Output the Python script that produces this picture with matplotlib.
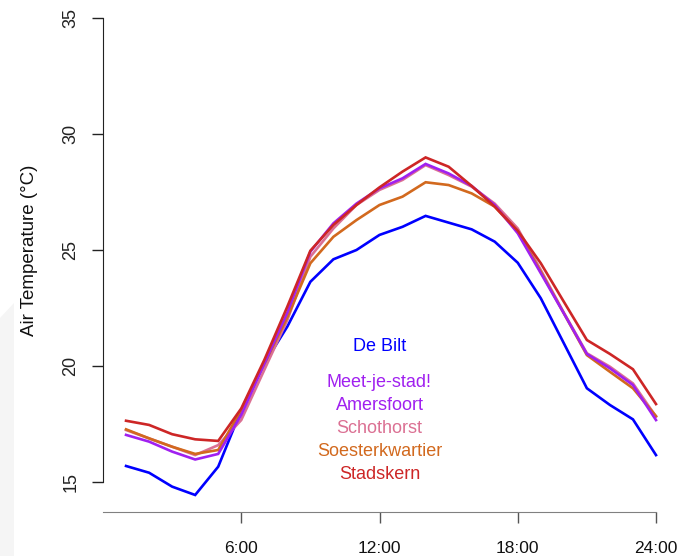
import matplotlib
matplotlib.use("Agg")
import matplotlib.pyplot as plt
from matplotlib.patches import Polygon

plt.rcParams['font.family'] = ['Liberation Sans', 'DejaVu Sans']

hours = list(range(1, 25))
de_bilt = [15.69, 15.40, 14.80, 14.44, 15.66, 18.1, 20.1, 21.7, 23.63, 24.6, 25.0, 25.65,
           26.0, 26.47, 26.18, 25.89, 25.36, 24.45, 22.92, 20.98, 19.04, 18.32, 17.70, 16.16]
amersfoort = [17.03, 16.74, 16.31, 15.97, 16.21, 17.89, 20.1, 22.3, 24.93, 26.15, 27.0, 27.66,
              28.09, 28.71, 28.3, 27.76, 26.94, 25.72, 24.0, 22.27, 20.52, 19.9, 19.18, 17.67]
schothorst = [17.24, 16.88, 16.52, 16.16, 16.59, 17.67, 19.83, 21.98, 24.71, 25.93, 26.94, 27.59,
              28.02, 28.66, 28.23, 27.73, 27.0, 25.93, 24.14, 22.3, 20.55, 19.97, 19.25, 17.82]
soesterkwartier = [17.27, 16.88, 16.52, 16.21, 16.38, 18.1, 20.1, 22.1, 24.43, 25.57, 26.29, 26.94,
                   27.30, 27.92, 27.80, 27.44, 26.87, 25.79, 24.06, 22.27, 20.47, 19.75, 19.04, 17.84]
stadskern = [17.64, 17.46, 17.06, 16.84, 16.77, 18.17, 20.26, 22.56, 24.97, 26.08, 26.94, 27.70,
             28.38, 28.99, 28.59, 27.76, 26.87, 25.83, 24.43, 22.77, 21.12, 20.52, 19.86, 18.36]

series = [
    ("De Bilt", de_bilt, "#0000FF"),
    ("Amersfoort", amersfoort, "#A020F0"),
    ("Schothorst", schothorst, "#DB7093"),
    ("Soesterkwartier", soesterkwartier, "#D2691E"),
    ("Stadskern", stadskern, "#CD2626"),
]
labels = ["Meet-je-stad!", "Amersfoort", "Schothorst", "Soesterkwartier", "Stadskern"]
label_colors = ["#A020F0", "#A020F0", "#DB7093", "#D2691E", "#CD2626"]

x_ticks = [6, 12, 18, 24]
x_ticklabels = ["6:00", "12:00", "18:00", "24:00"]
y_ticks = [15, 20, 25, 30, 35]

W, H = 692, 556
fig = plt.figure(figsize=(W / 100, H / 100), dpi=100)

# faint grey artifact on the left
fig.patches.append(Polygon([(0, 1 - 318 / H), (14 / W, 1 - 303 / H), (14 / W, 0), (0, 0)],
                           closed=True, transform=fig.transFigure, facecolor="#f5f5f5",
                           edgecolor="none", zorder=-10))

x0, x1 = 103, 656
ytop, ybot = 18, 512
ax = fig.add_axes([x0 / W, 1 - ybot / H, (x1 - x0) / W, (ybot - ytop) / H])
ppd = (482 - 18) / 20.0
ax.set_xlim(0, 24)
ax.set_ylim(15 - (ybot - 482) / ppd, 35)
ax.patch.set_alpha(0)

order = [0, 2, 3, 1, 4]
for i in order:
    name, vals, col = series[i]
    ax.plot(hours, vals, color=col, lw=1.9, clip_on=False, solid_joinstyle='miter')

ax.text(12, 20.83, "De Bilt", color="#0000FF", ha="center", va="center", fontsize=13)
for k, (lab, col) in enumerate(zip(labels, label_colors)):
    ax.text(12, 19.3 - k * 0.99, lab, color=col, ha="center", va="center", fontsize=13)

for s in ["top", "right"]:
    ax.spines[s].set_visible(False)
ax.spines["left"].set_bounds(15, 35)
ax.spines["left"].set_color("#222222")
ax.spines["bottom"].set_bounds(0, 24)
ax.spines["bottom"].set_color("#808080")

ax.set_yticks(y_ticks)
ax.set_yticklabels([str(v) for v in y_ticks], rotation=90, va="center", fontsize=13, color="#222222")
ax.set_xticks(x_ticks)
ax.set_xticklabels(x_ticklabels, fontsize=12.5, color="#111111")
ax.tick_params(axis="y", length=8, width=1, color="#222222", pad=9)
ax.tick_params(axis="x", length=8, width=1, color="#555555", pad=13)

ax.set_ylabel("Air Temperature (°C)", fontsize=13.5, color="#111111")
ax.yaxis.set_label_coords(-0.1175, (512 - 250) / (512 - 18))

fig.savefig("out.png", dpi=100)
